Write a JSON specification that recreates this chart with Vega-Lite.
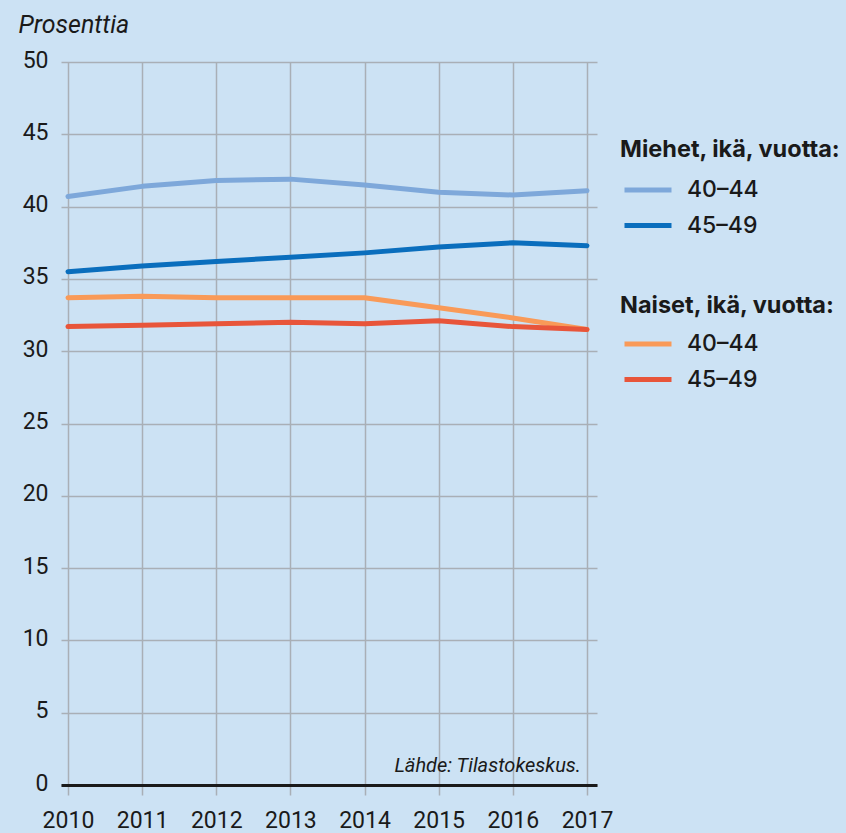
{
  "$schema": "https://vega.github.io/schema/vega-lite/v6.json",
  "width": 536,
  "height": 723,
  "autosize": "none",
  "padding": {"left": 61, "top": 62, "right": 249, "bottom": 48},
  "background": "#cce2f4",
  "config": {
    "view": {"stroke": null},
    "font": "Roboto",
    "text": {"font": "Roboto"},
    "axisX": {
      "grid": true,
      "gridColor": "#a9afb6",
      "gridWidth": 1.5,
      "domainColor": "#1a1a1a",
      "domainWidth": 3,
      "tickColor": "#a9afb6",
      "tickWidth": 1.5,
      "tickSize": 10,
      "labelFontSize": 23,
      "labelColor": "#1a1a1a",
      "labelPadding": 14,
      "labelFlush": false,
      "labelOverlap": false
    },
    "axisY": {
      "grid": true,
      "gridColor": "#a9afb6",
      "gridWidth": 1.5,
      "domain": false,
      "ticks": false,
      "tickSize": 0,
      "labelFontSize": 23,
      "labelColor": "#1a1a1a",
      "labelPadding": 13,
      "labelBaseline": "alphabetic",
      "labelOffset": 5
    },
    "legend": {
      "orient": "none",
      "titleFont": "Inter",
      "titleFontSize": 23.5,
      "titleFontWeight": "bold",
      "titleColor": "#1a1a1a",
      "titleLimit": 400,
      "labelFont": "Inter",
      "labelFontSize": 23,
      "labelFontWeight": 500,
      "labelColor": "#1a1a1a",
      "symbolType": "M-0.867,0H2.267",
      "symbolSize": 900,
      "symbolStrokeWidth": 5,
      "labelOffset": 32,
      "rowPadding": 5.5,
      "padding": 0
    }
  },
  "datasets": {
    "lines": [
      {"vuosi": 2010, "sukupuoli": "Miehet", "ika": "40–44", "arvo": 40.7},
      {"vuosi": 2011, "sukupuoli": "Miehet", "ika": "40–44", "arvo": 41.4},
      {"vuosi": 2012, "sukupuoli": "Miehet", "ika": "40–44", "arvo": 41.8},
      {"vuosi": 2013, "sukupuoli": "Miehet", "ika": "40–44", "arvo": 41.9},
      {"vuosi": 2014, "sukupuoli": "Miehet", "ika": "40–44", "arvo": 41.5},
      {"vuosi": 2015, "sukupuoli": "Miehet", "ika": "40–44", "arvo": 41.0},
      {"vuosi": 2016, "sukupuoli": "Miehet", "ika": "40–44", "arvo": 40.8},
      {"vuosi": 2017, "sukupuoli": "Miehet", "ika": "40–44", "arvo": 41.1},
      {"vuosi": 2010, "sukupuoli": "Miehet", "ika": "45–49", "arvo": 35.5},
      {"vuosi": 2011, "sukupuoli": "Miehet", "ika": "45–49", "arvo": 35.9},
      {"vuosi": 2012, "sukupuoli": "Miehet", "ika": "45–49", "arvo": 36.2},
      {"vuosi": 2013, "sukupuoli": "Miehet", "ika": "45–49", "arvo": 36.5},
      {"vuosi": 2014, "sukupuoli": "Miehet", "ika": "45–49", "arvo": 36.8},
      {"vuosi": 2015, "sukupuoli": "Miehet", "ika": "45–49", "arvo": 37.2},
      {"vuosi": 2016, "sukupuoli": "Miehet", "ika": "45–49", "arvo": 37.5},
      {"vuosi": 2017, "sukupuoli": "Miehet", "ika": "45–49", "arvo": 37.3},
      {"vuosi": 2010, "sukupuoli": "Naiset", "ika": "40–44", "arvo": 33.7},
      {"vuosi": 2011, "sukupuoli": "Naiset", "ika": "40–44", "arvo": 33.8},
      {"vuosi": 2012, "sukupuoli": "Naiset", "ika": "40–44", "arvo": 33.7},
      {"vuosi": 2013, "sukupuoli": "Naiset", "ika": "40–44", "arvo": 33.7},
      {"vuosi": 2014, "sukupuoli": "Naiset", "ika": "40–44", "arvo": 33.7},
      {"vuosi": 2015, "sukupuoli": "Naiset", "ika": "40–44", "arvo": 33.0},
      {"vuosi": 2016, "sukupuoli": "Naiset", "ika": "40–44", "arvo": 32.3},
      {"vuosi": 2017, "sukupuoli": "Naiset", "ika": "40–44", "arvo": 31.5},
      {"vuosi": 2010, "sukupuoli": "Naiset", "ika": "45–49", "arvo": 31.7},
      {"vuosi": 2011, "sukupuoli": "Naiset", "ika": "45–49", "arvo": 31.8},
      {"vuosi": 2012, "sukupuoli": "Naiset", "ika": "45–49", "arvo": 31.9},
      {"vuosi": 2013, "sukupuoli": "Naiset", "ika": "45–49", "arvo": 32.0},
      {"vuosi": 2014, "sukupuoli": "Naiset", "ika": "45–49", "arvo": 31.9},
      {"vuosi": 2015, "sukupuoli": "Naiset", "ika": "45–49", "arvo": 32.1},
      {"vuosi": 2016, "sukupuoli": "Naiset", "ika": "45–49", "arvo": 31.7},
      {"vuosi": 2017, "sukupuoli": "Naiset", "ika": "45–49", "arvo": 31.5}
    ],
    "lahde": [{"teksti": "Lähde: Tilastokeskus.", "vuosi": 2017, "arvo": 0}]
  },
  "layer": [
    {
      "data": {"name": "lines"},
      "transform": [{"filter": "datum.sukupuoli === 'Miehet'"}],
      "mark": {"type": "line", "strokeWidth": 5, "strokeCap": "round", "strokeJoin": "round"},
      "encoding": {
        "x": {
          "field": "vuosi",
          "type": "quantitative",
          "scale": {"domain": [2009.906, 2017.135], "nice": false, "zero": false},
          "axis": {
            "title": null,
            "values": [2010, 2011, 2012, 2013, 2014, 2015, 2016, 2017],
            "format": "d"
          }
        },
        "y": {
          "field": "arvo",
          "type": "quantitative",
          "scale": {"domain": [0, 50], "nice": false},
          "axis": {
            "title": "Prosenttia",
            "titleAngle": 0,
            "titleX": -43,
            "titleY": -30,
            "titleAlign": "left",
            "titleBaseline": "alphabetic",
            "titleFontStyle": "italic",
            "titleFontWeight": "normal",
            "titleFontSize": 25,
            "titleColor": "#1a1a1a",
            "values": [0, 5, 10, 15, 20, 25, 30, 35, 40, 45, 50]
          }
        },
        "color": {
          "field": "ika",
          "type": "nominal",
          "scale": {"domain": ["40–44", "45–49"], "range": ["#7ea8da", "#0a6ebd"]},
          "legend": {
            "title": "Miehet, ikä, vuotta:",
            "legendX": 559,
            "legendY": 76,
            "titlePadding": 11
          }
        }
      }
    },
    {
      "data": {"name": "lines"},
      "transform": [{"filter": "datum.sukupuoli === 'Naiset'"}],
      "mark": {"type": "line", "strokeWidth": 5, "strokeCap": "round", "strokeJoin": "round"},
      "encoding": {
        "x": {"field": "vuosi", "type": "quantitative"},
        "y": {"field": "arvo", "type": "quantitative"},
        "color": {
          "field": "ika",
          "type": "nominal",
          "scale": {"domain": ["40–44", "45–49"], "range": ["#f99a58", "#e8553a"]},
          "legend": {
            "title": "Naiset, ikä, vuotta:",
            "legendX": 559,
            "legendY": 232,
            "titlePadding": 9
          }
        }
      }
    },
    {
      "data": {"name": "lahde"},
      "mark": {"type": "text", "align": "right", "baseline": "alphabetic", "dx": -6, "dy": -13, "fontSize": 20, "fontStyle": "italic", "fill": "#1a1a1a"},
      "encoding": {
        "x": {"field": "vuosi", "type": "quantitative"},
        "y": {"field": "arvo", "type": "quantitative"},
        "text": {"field": "teksti", "type": "nominal"}
      }
    }
  ],
  "resolve": {"scale": {"color": "independent"}}
}
